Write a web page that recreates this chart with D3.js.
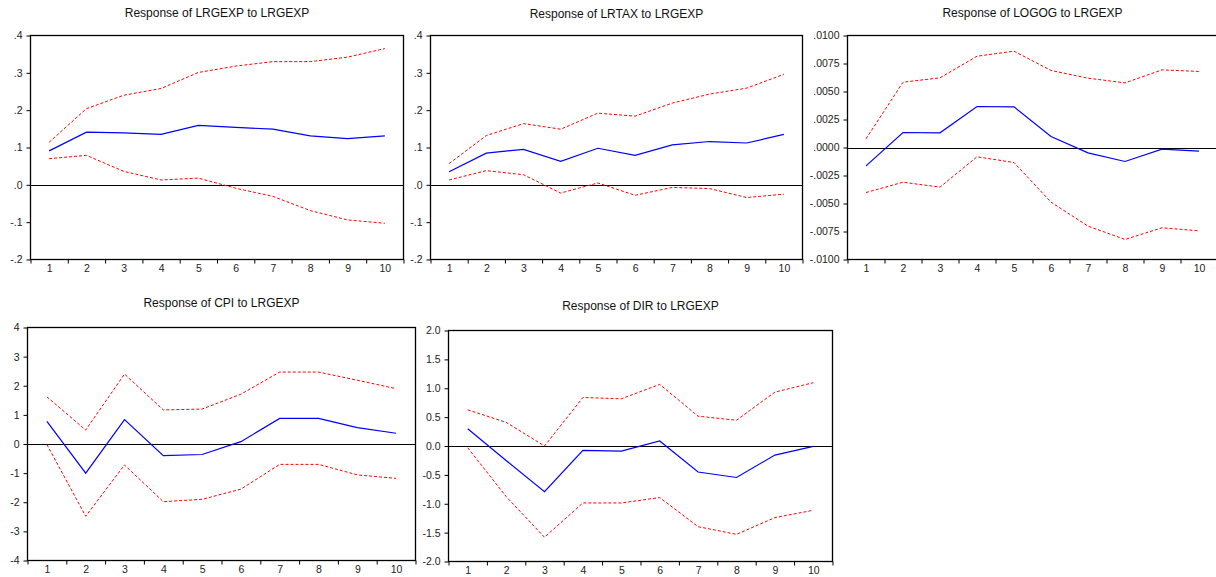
<!DOCTYPE html>
<html>
<head>
<meta charset="utf-8">
<script src="https://cdn.jsdelivr.net/npm/d3@7"></script>
<style>
  body { margin: 0; background: #fff; }
  svg { display: block; font-family: "Liberation Sans", Arial, sans-serif; }
  .tick text { fill: #222; }
</style>
</head>
<body>
<div id="chart"></div>
<script>
// periods (x categories)
const periods = [1, 2, 3, 4, 5, 6, 7, 8, 9, 10];

// Response of LRGEXP to LRGEXP
const lrgexpResp  = [0.091, 0.141, 0.139, 0.135, 0.159, 0.154, 0.149, 0.131, 0.124, 0.131];
const lrgexpUpper = [0.114, 0.204, 0.240, 0.258, 0.301, 0.318, 0.330, 0.330, 0.342, 0.365];
const lrgexpLower = [0.070, 0.079, 0.036, 0.013, 0.018, -0.009, -0.031, -0.069, -0.094, -0.103];

// Response of LRTAX to LRGEXP
const lrtaxResp  = [0.035, 0.085, 0.095, 0.063, 0.098, 0.079, 0.107, 0.116, 0.112, 0.135];
const lrtaxUpper = [0.057, 0.132, 0.164, 0.149, 0.192, 0.184, 0.219, 0.243, 0.259, 0.296];
const lrtaxLower = [0.013, 0.038, 0.027, -0.022, 0.005, -0.028, -0.007, -0.010, -0.034, -0.025];

// Response of LOGOG to LRGEXP
const logogResp  = [-0.00164, 0.00134, 0.00131, 0.00366, 0.00363, 0.00098, -0.00048, -0.00125, -0.00015, -0.00033];
const logogUpper = [0.00077, 0.00583, 0.00622, 0.00815, 0.00860, 0.00688, 0.00619, 0.00577, 0.00693, 0.00679];
const logogLower = [-0.00402, -0.00310, -0.00354, -0.00083, -0.00134, -0.00488, -0.00702, -0.00821, -0.00717, -0.00744];

// Response of CPI to LRGEXP
const cpiResp  = [0.78, -1.00, 0.84, -0.40, -0.36, 0.08, 0.88, 0.88, 0.56, 0.37];
const cpiUpper = [1.62, 0.48, 2.40, 1.17, 1.20, 1.71, 2.47, 2.47, 2.19, 1.90];
const cpiLower = [-0.02, -2.48, -0.72, -1.98, -1.90, -1.55, -0.70, -0.70, -1.06, -1.18];

// Response of DIR to LRGEXP
const dirResp  = [0.30, -0.25, -0.79, -0.075, -0.087, 0.087, -0.45, -0.545, -0.157, -0.006];
const dirUpper = [0.626, 0.41, 0.0, 0.84, 0.817, 1.067, 0.516, 0.446, 0.933, 1.096];
const dirLower = [-0.03, -0.875, -1.58, -0.986, -0.986, -0.893, -1.397, -1.53, -1.24, -1.113];

// y tick values
const ticksSmall = [-0.2, -0.1, 0, 0.1, 0.2, 0.3, 0.4];
const ticksLogog = [-0.01, -0.0075, -0.005, -0.0025, 0, 0.0025, 0.005, 0.0075, 0.01];
const ticksCpi = [-4, -3, -2, -1, 0, 1, 2, 3, 4];
const ticksDir = [-2, -1.5, -1, -0.5, 0, 0.5, 1, 1.5, 2];

const W = 1216, H = 577;
const svg = d3.select("#chart").append("svg")
    .attr("width", W)
    .attr("height", H);

const dotFmt = spec => d => d3.format(spec)(d).replace("\u2212", "-").replace(/^(-?)0\./, "$1.");
const plainFmt = spec => d => d3.format(spec)(d).replace("\u2212", "-");

const panels = [
    { title: "Response of LRGEXP to LRGEXP", box: [30.5, 35.5, 403.5, 259.5], titleY: 16.5,
      resp: lrgexpResp, upper: lrgexpUpper, lower: lrgexpLower, ticks: ticksSmall, fmt: dotFmt(".1f") },
    { title: "Response of LRTAX to LRGEXP", box: [430.5, 35.5, 802.5, 259.5], titleY: 17.5,
      resp: lrtaxResp, upper: lrtaxUpper, lower: lrtaxLower, ticks: ticksSmall, fmt: dotFmt(".1f") },
    { title: "Response of LOGOG to LRGEXP", box: [847.5, 35.5, 1217.5, 259.5], titleY: 16.5,
      resp: logogResp, upper: logogUpper, lower: logogLower, ticks: ticksLogog, fmt: dotFmt(".4f") },
    { title: "Response of CPI to LRGEXP", box: [27.5, 327.5, 415.5, 560.5], titleY: 306.5,
      resp: cpiResp, upper: cpiUpper, lower: cpiLower, ticks: ticksCpi, fmt: plainFmt("d") },
    { title: "Response of DIR to LRGEXP", box: [448.5, 330.5, 832.5, 561.5], titleY: 310,
      resp: dirResp, upper: dirUpper, lower: dirLower, ticks: ticksDir, fmt: plainFmt(".1f") }
];

panels.forEach(p => {
    const [x0, y0, x1, y1] = p.box;
    const g = svg.append("g");

    const x = d3.scaleLinear().domain([0.5, periods.length + 0.5]).range([x0, x1]);
    const y = d3.scaleLinear().domain(d3.extent(p.ticks)).range([y1, y0]);

    // title
    g.append("text")
        .attr("x", (x0 + x1) / 2)
        .attr("y", p.titleY)
        .attr("text-anchor", "middle")
        .attr("font-size", 12)
        .attr("fill", "#111")
        .text(p.title);

    // y axis
    const yAxis = g.append("g")
        .attr("transform", "translate(" + x0 + ",0)")
        .call(d3.axisLeft(y).tickValues(p.ticks).tickFormat(p.fmt).tickSize(4).tickPadding(4).tickSizeOuter(0));
    yAxis.select(".domain").remove();
    yAxis.selectAll("text").attr("font-size", 10.5).attr("font-family", "Liberation Sans, Arial, sans-serif");

    // x axis: ticks at category boundaries, labels at centers
    const bounds = d3.range(0.5, periods.length + 1, 1);
    const xTicks = g.append("g")
        .attr("transform", "translate(0," + y1 + ")")
        .call(d3.axisBottom(x).tickValues(bounds).tickFormat("").tickSize(4).tickSizeOuter(0));
    xTicks.select(".domain").remove();

    const xLabels = g.append("g")
        .attr("transform", "translate(0," + y1 + ")")
        .call(d3.axisBottom(x).tickValues(periods).tickFormat(d3.format("d")).tickSize(0).tickPadding(5));
    xLabels.select(".domain").remove();
    xLabels.selectAll("text").attr("font-size", 10.5).attr("font-family", "Liberation Sans, Arial, sans-serif");

    // zero line
    g.append("line")
        .attr("x1", x0).attr("x2", x1)
        .attr("y1", Math.round(y(0)) + 0.5).attr("y2", Math.round(y(0)) + 0.5)
        .attr("stroke", "#000")
        .attr("stroke-width", 1);

    const line = d3.line()
        .x((d, i) => x(periods[i]))
        .y(d => y(d));

    g.append("path").datum(p.upper)
        .attr("d", line)
        .attr("fill", "none")
        .attr("stroke", "#ff0000")
        .attr("stroke-width", 1)
        .attr("stroke-dasharray", "3,2");

    g.append("path").datum(p.lower)
        .attr("d", line)
        .attr("fill", "none")
        .attr("stroke", "#ff0000")
        .attr("stroke-width", 1)
        .attr("stroke-dasharray", "3,2");

    g.append("path").datum(p.resp)
        .attr("d", line)
        .attr("fill", "none")
        .attr("stroke", "#0000ff")
        .attr("stroke-width", 1.2);

    // frame
    g.append("rect")
        .attr("x", x0).attr("y", y0)
        .attr("width", x1 - x0).attr("height", y1 - y0)
        .attr("fill", "none")
        .attr("stroke", "#000")
        .attr("stroke-width", 1.3);
});
</script>
</body>
</html>
